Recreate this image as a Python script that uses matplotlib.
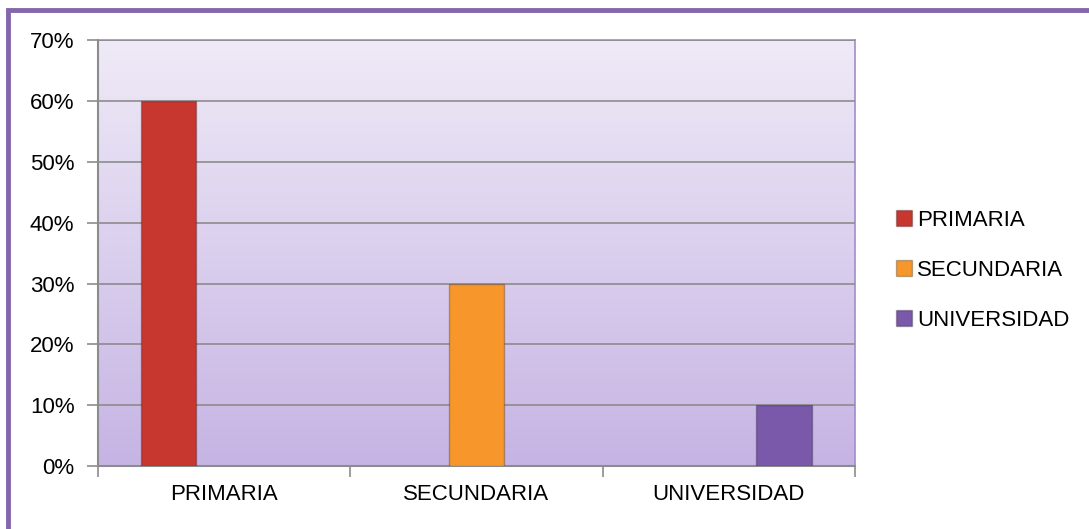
import numpy as np
import matplotlib.pyplot as plt
from matplotlib.patches import Rectangle

plt.rcParams['font.family'] = ['Liberation Sans', 'DejaVu Sans']

categories = ["PRIMARIA", "SECUNDARIA", "UNIVERSIDAD"]
values = [60, 30, 10]
colors = ["#C8372F", "#F7962A", "#7A58AA"]
yticks = [0, 10, 20, 30, 40, 50, 60, 70]

fig = plt.figure(figsize=(10.89, 5.29), dpi=100)
ax = fig.add_axes([0.090, 0.119, 0.695, 0.805])

# outer chart border (only top/left visible)
fig.patches.append(Rectangle((8 / 1089, -0.1), 1.2, 1 - 8 / 529 + 0.1 - 0.004,
                             transform=fig.transFigure, fill=False,
                             edgecolor="#8466AA", lw=3.5, zorder=0))

# gradient background, light at top, darker lavender at bottom
grad = np.linspace(0, 1, 256).reshape(-1, 1)
top = np.array([0.937, 0.918, 0.969])
bot = np.array([0.776, 0.706, 0.894])
img = top + (bot - top) * grad[..., None]
ax.imshow(img.reshape(256, 1, 3), extent=[-0.5, 2.5, 0, 70], aspect="auto",
          zorder=0, origin="upper")

w = 0.22
x = np.arange(len(categories))
for i, (cat, v, c) in enumerate(zip(categories, values, colors)):
    ax.bar(x[i] + (i - 1) * w, v, w, color=c, edgecolor="#00000040", lw=1.0,
           label=cat, zorder=3)

ax.set_xlim(-0.5, 2.5)
ax.set_ylim(0, 70)
ax.set_yticks(yticks)
ax.set_yticklabels([f"{t}%" for t in yticks], fontsize=16)
ax.yaxis.grid(True, color="#8C8C8C", lw=1.2, zorder=1)
ax.set_axisbelow(False)
for gl in ax.get_ygridlines():
    gl.set_zorder(1)

ax.set_xticks(x)
ax.set_xticklabels(categories, fontsize=16)
ax.set_xticks([-0.5, 0.5, 1.5, 2.5], minor=True)
ax.tick_params(axis="x", which="major", length=0, pad=13)
ax.tick_params(axis="x", which="minor", length=8, color="#8C8C8C", width=1.2)
ax.tick_params(axis="y", length=8, color="#8C8C8C", width=1.2, pad=9)

for s in ["left", "bottom"]:
    ax.spines[s].set_color("#8C8C8C")
    ax.spines[s].set_linewidth(1.5)
for s in ["top", "right"]:
    ax.spines[s].set_color("#A58BC8")
    ax.spines[s].set_linewidth(1.2)

leg = ax.legend(loc="center left", bbox_to_anchor=(1.028, 0.46), frameon=False,
                fontsize=16, handlelength=0.7, handleheight=0.7,
                handletextpad=0.25, labelspacing=1.3)

fig.savefig("out.png", dpi=100)
